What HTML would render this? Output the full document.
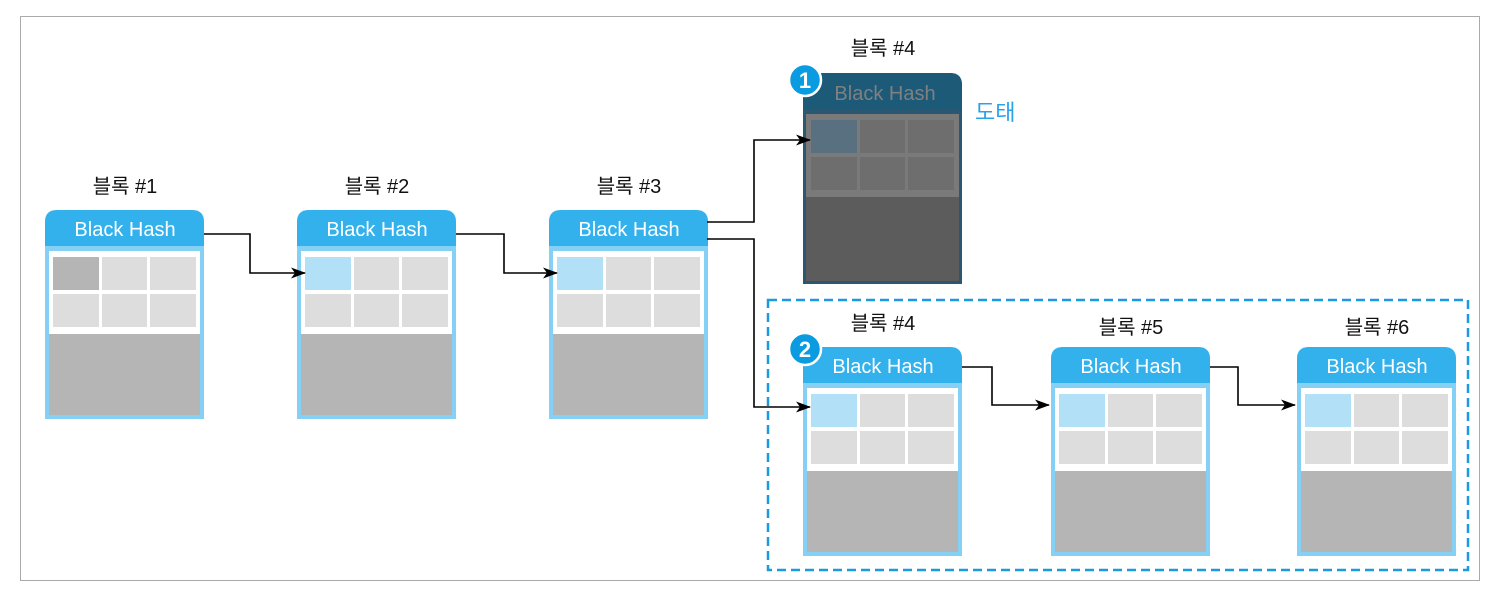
<!DOCTYPE html>
<html><head><meta charset="utf-8"><style>
html,body{margin:0;padding:0;background:#fff;}
svg{display:block;}
text{font-family:"Liberation Sans","Noto Sans CJK KR",sans-serif;}
</style></head><body>
<svg width="1490" height="590" viewBox="0 0 1490 590" xmlns="http://www.w3.org/2000/svg">
<defs>
<marker id="ah" markerWidth="15" markerHeight="11" refX="14" refY="5.5" orient="auto" markerUnits="userSpaceOnUse">
<path d="M0,0 L15,5.5 L0,11 L4,5.5 Z" fill="#000"/>
</marker>
<g id="blk">
<path d="M0,12 Q0,0 12,0 H147 Q159,0 159,12 V209 H0 Z" fill="#85d0f5"/>
<path d="M0,12 Q0,0 12,0 H147 Q159,0 159,12 V36 H0 Z" fill="#33b1ec"/>
<rect x="4" y="41" width="151" height="83" fill="#fff"/>
<rect x="8" y="47" width="46" height="33" fill="#b2e1f7"/>
<rect x="57" y="47" width="45" height="33" fill="#dcdddc"/>
<rect x="105" y="47" width="46" height="33" fill="#dcdddc"/>
<rect x="8" y="84" width="46" height="33" fill="#dcdddc"/>
<rect x="57" y="84" width="45" height="33" fill="#dcdddc"/>
<rect x="105" y="84" width="46" height="33" fill="#dcdddc"/>
<rect x="4" y="124" width="151" height="81" fill="#b4b5b4"/>
<text x="80" y="26" font-size="20" fill="#fff" text-anchor="middle">Black Hash</text>
</g>
</defs>
<rect x="20.5" y="16.5" width="1459" height="564" fill="#fff" stroke="#aaa" stroke-width="1"/>
<rect x="768" y="300" width="700" height="270" fill="none" stroke="#1a9be0" stroke-width="2.5" stroke-dasharray="9,5"/>

<g font-size="20" fill="#111" text-anchor="middle">
<text x="125" y="193">블록 #1</text>
<text x="377" y="193">블록 #2</text>
<text x="629" y="193">블록 #3</text>
<text x="883" y="55">블록 #4</text>
<text x="883" y="330">블록 #4</text>
<text x="1131" y="334">블록 #5</text>
<text x="1377" y="334">블록 #6</text>
</g>

<use href="#blk" x="45" y="210"/>
<rect x="53" y="257" width="46" height="33" fill="#b4b5b4"/>
<use href="#blk" x="297" y="210"/>
<use href="#blk" x="549" y="210"/>
<use href="#blk" x="803" y="347"/>
<use href="#blk" x="1051" y="347"/>
<use href="#blk" x="1297" y="347"/>

<g transform="translate(803,73)">
<path d="M0,12 Q0,0 12,0 H147 Q159,0 159,12 V211 H0 Z" fill="#2c5770"/>
<path d="M0,12 Q0,0 12,0 H147 Q159,0 159,12 V37 H0 Z" fill="#1c5a78"/>
<rect x="3" y="41" width="153" height="83" fill="#7a7a7a"/>
<rect x="8" y="47" width="46" height="33" fill="#587080"/>
<rect x="57" y="47" width="45" height="33" fill="#6e6e6e"/>
<rect x="105" y="47" width="46" height="33" fill="#6e6e6e"/>
<rect x="8" y="84" width="46" height="33" fill="#6e6e6e"/>
<rect x="57" y="84" width="45" height="33" fill="#6e6e6e"/>
<rect x="105" y="84" width="46" height="33" fill="#6e6e6e"/>
<rect x="3" y="124" width="153" height="84" fill="#5c5c5c"/>
<text x="82" y="27" font-size="20" fill="#808080" text-anchor="middle">Black Hash</text>
</g>
<text x="975" y="120" font-size="22" fill="#29a3e8">도태</text>

<circle cx="805" cy="80" r="16" fill="#0a9be0" stroke="#fff" stroke-width="2.5"/>
<text x="805" y="88" font-size="22" font-weight="bold" fill="#fff" text-anchor="middle">1</text>
<circle cx="805" cy="349" r="16" fill="#0a9be0" stroke="#fff" stroke-width="2.5"/>
<text x="805" y="357" font-size="22" font-weight="bold" fill="#fff" text-anchor="middle">2</text>

<g fill="none" stroke="#000" stroke-width="1.6">
<path d="M204,234 H250 V273 H305" marker-end="url(#ah)"/>
<path d="M456,234 H504 V273 H557" marker-end="url(#ah)"/>
<path d="M707,222 H754 V140 H810" marker-end="url(#ah)"/>
<path d="M707,239 H754 V407 H810" marker-end="url(#ah)"/>
<path d="M962,367 H992 V405 H1049" marker-end="url(#ah)"/>
<path d="M1210,367 H1238 V405 H1295" marker-end="url(#ah)"/>
</g>
</svg>
</body></html>
